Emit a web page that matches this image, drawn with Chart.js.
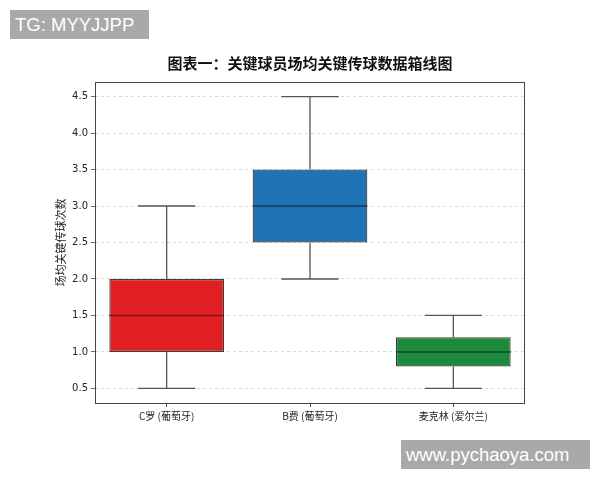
<!DOCTYPE html>
<html>
<head>
<meta charset="utf-8">
<script src="https://cdn.jsdelivr.net/npm/chart.js@4/dist/chart.umd.min.js"></script>
<style>
  html, body { margin: 0; padding: 0; background: #fff; }
  #wrap { position: relative; width: 600px; height: 480px; }
  .wm {
    position: absolute;
    background: #a9a9a9;
    color: #fff;
    font-family: "Liberation Sans", Arial, sans-serif;
    font-size: 18.5px;
    line-height: 29px;
    height: 29px;
    padding-left: 5px;
    box-sizing: border-box;
  }
</style>
</head>
<body>
<div id="wrap">
  <canvas id="myChart" width="600" height="480"></canvas>
  <div class="wm" style="left:10px; top:10px; width:139px;">TG: MYYJJPP</div>
  <div class="wm" style="left:401px; top:440px; width:189px;">www.pychaoya.com</div>
</div>
<script>
// 球员 & 箱线图五数
const players = ['C罗 (葡萄牙)', 'B费 (葡萄牙)', '麦克林 (爱尔兰)'];
const mins    = [0.5, 2.0, 0.5];
const q1s     = [1.0, 2.5, 0.8];
const medians = [1.5, 3.0, 1.0];
const q3s     = [2.0, 3.5, 1.2];
const maxs    = [3.0, 4.5, 1.5];
const yTicks  = [0.5, 1.0, 1.5, 2.0, 2.5, 3.0, 3.5, 4.0, 4.5];

const boxColors    = ['rgb(224,31,35)', 'rgb(31,114,181)', 'rgb(27,138,58)'];
const medianColors = ['rgb(130,22,24)', 'rgb(24,58,92)', 'rgb(22,70,36)'];

// whiskers, caps, medians + frame
const boxExtras = {
    id: 'boxExtras',
    afterDatasetsDraw(chart) {
        const ctx = chart.ctx;
        const x = chart.scales.x, y = chart.scales.y;
        const bars = chart.getDatasetMeta(0).data;
        ctx.save();
        players.forEach((p, i) => {
            const cx = x.getPixelForValue(i);
            const half = bars[i].width / 2;
            const cap = half / 2;
            ctx.strokeStyle = '#555';
            ctx.lineWidth = 1.3;
            ctx.beginPath();
            ctx.moveTo(cx, y.getPixelForValue(q3s[i]));
            ctx.lineTo(cx, y.getPixelForValue(maxs[i]));
            ctx.moveTo(cx - cap, y.getPixelForValue(maxs[i]));
            ctx.lineTo(cx + cap, y.getPixelForValue(maxs[i]));
            ctx.moveTo(cx, y.getPixelForValue(q1s[i]));
            ctx.lineTo(cx, y.getPixelForValue(mins[i]));
            ctx.moveTo(cx - cap, y.getPixelForValue(mins[i]));
            ctx.lineTo(cx + cap, y.getPixelForValue(mins[i]));
            ctx.stroke();
            ctx.strokeStyle = medianColors[i];
            ctx.lineWidth = 1.6;
            ctx.beginPath();
            ctx.moveTo(cx - half, y.getPixelForValue(medians[i]));
            ctx.lineTo(cx + half, y.getPixelForValue(medians[i]));
            ctx.stroke();
        });
        const a = chart.chartArea;
        ctx.strokeStyle = '#444';
        ctx.lineWidth = 1;
        ctx.strokeRect(a.left + 0.5, a.top + 0.5, a.right - a.left - 1, a.bottom - a.top);
        ctx.restore();
    }
};

var ctx = document.getElementById('myChart').getContext('2d');
var myChart = new Chart(ctx, {
    type: 'bar',
    data: {
        labels: players,
        datasets: [{
            data: players.map((p, i) => [q1s[i], q3s[i]]),
            backgroundColor: boxColors,
            borderColor: '#3c3c3c',
            borderWidth: 1.2,
            borderSkipped: false,
            categoryPercentage: 1,
            barPercentage: 0.8
        }]
    },
    options: {
        responsive: false,
        animation: false,
        devicePixelRatio: 1,
        layout: { padding: { right: 75 } },
        plugins: {
            legend: { display: false },
            tooltip: { enabled: false },
            title: {
                display: true,
                fullSize: false,
                text: '图表一：关键球员场均关键传球数据箱线图',
                color: '#111',
                font: { family: '"Noto Sans CJK SC"', size: 15, weight: 'bold', lineHeight: 1.2 },
                padding: { top: 54, bottom: 10 }
            }
        },
        scales: {
            x: {
                grid: { display: true, drawOnChartArea: false, offset: false, tickLength: 4, tickColor: '#444' },
                border: { display: false },
                ticks: { color: '#222', padding: 3, font: { family: '"Noto Sans CJK SC"', size: 10 } },
                afterFit(scale) { scale.height = 77; }
            },
            y: {
                min: 0.3,
                max: 4.7,
                afterBuildTicks(scale) { scale.ticks = yTicks.map(v => ({ value: v })); },
                grid: { color: '#d4d4d4', lineWidth: 0.8, tickLength: 4, tickColor: '#444', tickBorderDash: [] },
                border: { display: false, dash: [3, 3] },
                ticks: {
                    color: '#222',
                    padding: 3,
                    font: { family: '"DejaVu Sans"', size: 10 },
                    callback: v => Number(v).toFixed(1)
                },
                title: {
                    display: true,
                    text: '场均关键传球次数',
                    color: '#222',
                    font: { family: '"Noto Sans CJK SC"', size: 11, lineHeight: 1.2 },
                    padding: { top: 54, bottom: 0 }
                },
                afterFit(scale) { scale.width = 95; }
            }
        }
    },
    plugins: [boxExtras]
});
</script>
</body>
</html>
